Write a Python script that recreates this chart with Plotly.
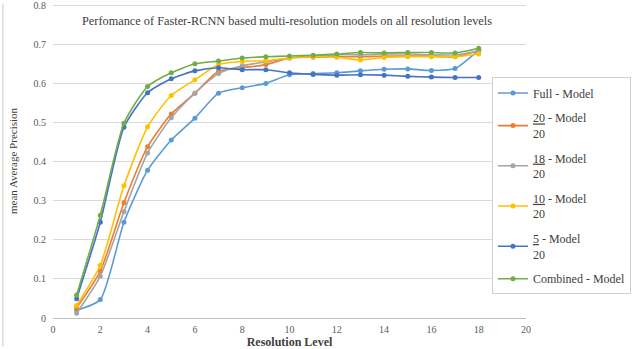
import plotly.graph_objects as go

# resolution levels (x) and mAP per model
levels = list(range(1, 19))

full_model = [0.020, 0.047, 0.245, 0.378, 0.455, 0.511, 0.575, 0.589, 0.600, 0.622,
              0.625, 0.627, 0.632, 0.636, 0.637, 0.633, 0.638, 0.685]
model_20_20 = [0.026, 0.120, 0.295, 0.438, 0.522, 0.575, 0.631, 0.640, 0.648, 0.665,
               0.667, 0.668, 0.668, 0.670, 0.670, 0.670, 0.668, 0.685]
model_18_20 = [0.012, 0.107, 0.272, 0.422, 0.512, 0.575, 0.625, 0.645, 0.655, 0.665,
               0.670, 0.673, 0.673, 0.675, 0.675, 0.673, 0.673, 0.683]
model_10_20 = [0.032, 0.135, 0.338, 0.489, 0.569, 0.609, 0.648, 0.656, 0.658, 0.665,
               0.668, 0.667, 0.660, 0.666, 0.668, 0.668, 0.668, 0.675]
model_5_20 = [0.049, 0.245, 0.488, 0.576, 0.612, 0.632, 0.640, 0.635, 0.635, 0.627,
              0.623, 0.621, 0.622, 0.621, 0.618, 0.616, 0.615, 0.615]
combined = [0.059, 0.263, 0.498, 0.592, 0.627, 0.650, 0.657, 0.665, 0.668, 0.670,
            0.672, 0.675, 0.679, 0.678, 0.679, 0.679, 0.678, 0.690]

series_names = [
    "Full - Model",
    "<u>20</u> - Model<br>20",
    "<u>18</u> - Model<br>20",
    "<u>10</u> - Model<br>20",
    "<u>5</u> - Model<br>20",
    "Combined - Model",
]
series_values = [full_model, model_20_20, model_18_20, model_10_20, model_5_20, combined]
colors = ["#5B9BD5", "#ED7D31", "#A5A5A5", "#FFC000", "#4472C4", "#70AD47"]

serif = "Liberation Serif, Times New Roman, serif"

fig = go.Figure()
for i, (name, vals, col) in enumerate(zip(series_names, series_values, colors)):
    fig.add_trace(
        go.Scatter(
            x=levels,
            y=vals,
            name=name,
            legendgroup=f"g{i}",
            mode="lines+markers",
            line=dict(color=col, width=1.6, shape="spline", smoothing=0.6),
            marker=dict(color=col, size=5),
        )
    )

fig.update_layout(
    width=640,
    height=349,
    margin=dict(l=53, r=114, t=4, b=31),
    paper_bgcolor="white",
    plot_bgcolor="white",
    font=dict(family=serif, color="#595959", size=10),
    title=dict(
        text="Perfomance of Faster-RCNN based multi-resolution models on all resolution levels",
        x=287 / 640,
        xanchor="center",
        xref="container",
        y=1 - 21 / 349,
        yref="container",
        yanchor="middle",
        font=dict(family=serif, size=12.3, color="#404040"),
        automargin=False,
    ),
    legend=dict(
        x=0.928,
        y=0.766,
        xanchor="left",
        yanchor="top",
        bgcolor="white",
        bordercolor="#d0d0d0",
        borderwidth=1,
        font=dict(family=serif, size=12, color="#404040"),
        tracegroupgap=6,
        itemwidth=30,
    ),
    showlegend=True,
)

fig.update_xaxes(
    range=[0, 20],
    dtick=2,
    showgrid=False,
    zeroline=False,
    showline=True,
    linecolor="#bfbfbf",
    ticks="",
    ticklabelstandoff=2,
    automargin=False,
    title=dict(
        text="<b>Resolution Level</b>",
        font=dict(family=serif, size=12, color="#404040"),
        standoff=0,
    ),
)
fig.update_yaxes(
    range=[0, 0.803],
    tick0=0,
    dtick=0.1,
    showgrid=True,
    gridcolor="#d9d9d9",
    zeroline=False,
    ticks="",
    ticklabelstandoff=6,
    ticklabeloverflow="allow",
    automargin=False,
    title=dict(
        text="mean Average Precision",
        font=dict(family=serif, size=11, color="#404040"),
        standoff=13,
    ),
)

# outer chart frame (left edge visible in the reference)
fig.add_shape(
    type="line", xref="paper", yref="paper",
    x0=-0.106, x1=-0.106, y0=-0.09, y1=1.0,
    line=dict(color="#c8c8c8", width=1),
)

# drop the browser's default 8px body margin so the figure sits at the page corner
fig.write_html(
    "out.html",
    config={"displayModeBar": False},
    post_script="document.body.style.margin='0px';",
)
